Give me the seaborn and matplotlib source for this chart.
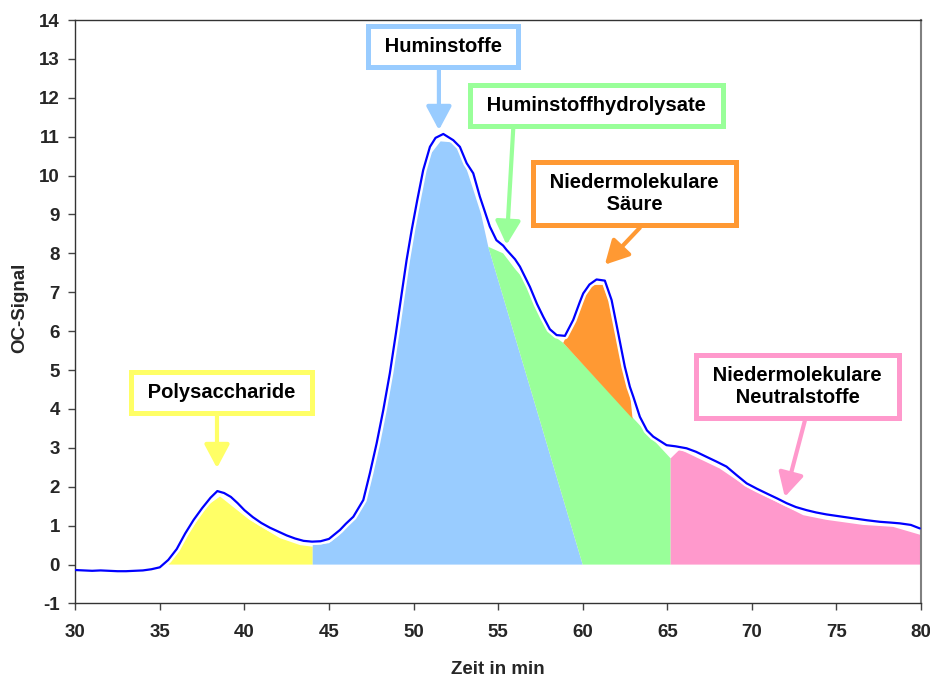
import numpy as np
import pandas as pd
import matplotlib
matplotlib.use("Agg")
import matplotlib.pyplot as plt
import seaborn as sns

# Measured OC detector signal over retention time
time_min = [30.0, 30.5, 31.0, 31.5, 32.0, 32.5, 33.0, 33.5, 34.0, 34.5, 35.0, 35.5,
            36.0, 36.5, 37.0, 37.5, 38.0, 38.4, 38.8, 39.2, 39.6, 40.0, 40.5, 41.0,
            41.5, 42.0, 42.5, 43.0, 43.5, 44.0, 44.5, 45.0, 45.65, 46.0, 46.44, 47.03,
            47.42, 47.82, 48.21, 48.6, 48.96, 49.3, 49.59, 49.89, 50.22, 50.57, 50.97,
            51.3, 51.76, 52.35, 52.74, 53.14, 53.53, 53.92, 54.12, 54.51, 54.9, 55.3,
            55.5, 56.0, 56.29, 56.88, 57.3, 57.67, 58.06, 58.46, 58.95, 59.44, 59.83,
            60.03, 60.4, 60.82, 61.31, 61.71, 62.1, 62.49, 62.79, 62.99, 63.38, 63.8,
            64.17, 64.96, 65.5, 66.14, 66.7, 67.32, 67.9, 68.5, 69.1, 69.69, 70.3,
            70.87, 71.5, 72.05, 72.6, 73.23, 73.8, 74.41, 75.2, 75.99, 76.8, 77.57,
            78.2, 78.75, 79.4, 79.93]
oc_signal = [-0.14, -0.15, -0.16, -0.15, -0.16, -0.17, -0.17, -0.16, -0.15, -0.12, -0.07, 0.12,
             0.40, 0.80, 1.15, 1.45, 1.72, 1.89, 1.84, 1.74, 1.58, 1.40, 1.22, 1.07,
             0.95, 0.85, 0.75, 0.67, 0.61, 0.59, 0.60, 0.66, 0.89, 1.05, 1.23, 1.66,
             2.35, 3.12, 3.97, 4.92, 5.95, 6.97, 7.83, 8.60, 9.37, 10.14, 10.74,
             10.97, 11.07, 10.91, 10.74, 10.32, 10.06, 9.46, 9.20, 8.69, 8.34, 8.20,
             8.09, 7.85, 7.66, 7.14, 6.70, 6.37, 6.05, 5.90, 5.88, 6.29, 6.75,
             6.97, 7.20, 7.33, 7.30, 6.80, 5.95, 5.09, 4.57, 4.32, 3.80, 3.45,
             3.29, 3.07, 3.04, 2.99, 2.90, 2.77, 2.65, 2.52, 2.30, 2.09, 1.95,
             1.83, 1.70, 1.58, 1.48, 1.40, 1.34, 1.29, 1.24, 1.19, 1.14, 1.10,
             1.08, 1.06, 1.02, 0.93]

# Fraction outlines (time, signal)
poly_t = [35.5, 37.75, 38.56, 40.3, 42.1, 43.3, 44.04, 44.04]
poly_s = [0.0, 1.50, 1.75, 1.15, 0.68, 0.50, 0.46, 0.0]

humin_t = [44.04, 44.04, 45.0, 45.6, 46.4, 47.0, 47.5, 48.0, 48.5, 49.0, 49.5, 50.0,
           50.5, 51.0, 51.6, 52.4, 53.0, 53.6, 54.0, 54.42, 60.0]
humin_s = [0.0, 0.50, 0.55, 0.75, 1.10, 1.50, 2.20, 3.20, 4.50, 5.85, 7.35, 8.60,
           9.80, 10.55, 10.88, 10.85, 10.35, 9.55, 9.00, 8.17, 0.0]

hydro_t = [54.42, 55.3, 56.0, 56.7, 57.4, 58.06, 58.85, 65.2, 65.2, 60.0]
hydro_s = [8.17, 8.00, 7.60, 7.25, 6.60, 5.95, 5.70, 2.73, 0.0, 0.0]

acid_t = [58.85, 59.3, 59.83, 60.2, 60.62, 61.21, 61.8, 62.4, 62.8, 62.95]
acid_s = [5.70, 6.10, 6.63, 7.00, 7.19, 7.19, 6.46, 5.26, 4.40, 3.75]

neutral_t = [65.2, 65.2, 65.74, 68.1, 69.69, 71.07, 73.04, 74.41, 76.57, 78.35, 80.0, 80.0]
neutral_s = [0.0, 2.73, 2.96, 2.47, 2.00, 1.70, 1.27, 1.15, 1.02, 0.97, 0.76, 0.0]

fraction_names = ["Polysaccharide", "Huminstoffe", "Huminstoffhydrolysate",
                  "Niedermolekulare\nSäure", "Niedermolekulare\nNeutralstoffe"]
fraction_colors = ["#FFFF66", "#99CCFF", "#99FF99", "#FF9933", "#FF99CC"]
# label box centres and arrow start/end in data units
label_pos = [(38.65, 4.42), (51.74, 13.31), (60.81, 11.81), (63.06, 9.54), (72.69, 4.58)]
arrow_from = [(38.38, 3.85), (51.5, 12.71), (55.9, 11.25), (63.38, 8.66), (73.13, 3.69)]
arrow_to = [(38.38, 2.48), (51.5, 11.17), (55.5, 8.22), (61.31, 7.71), (71.95, 1.74)]

x_ticks = [30, 35, 40, 45, 50, 55, 60, 65, 70, 75, 80]
y_ticks = list(range(-1, 15))

sns.set_theme(style="white")
plt.rcParams["font.family"] = ["Liberation Sans", "DejaVu Sans"]
plt.rcParams["axes.unicode_minus"] = False

fig = plt.figure(figsize=(9.3, 6.78), dpi=100)
ax = fig.add_axes([0.0809, 0.1099, 0.9094, 0.8606])

fills = [(poly_t, poly_s), (humin_t, humin_s), (hydro_t, hydro_s),
         (acid_t, acid_s), (neutral_t, neutral_s)]
for (ft, fs), col in zip(fills, fraction_colors):
    ax.fill(ft, fs, color=col, lw=0, zorder=1)

df = pd.DataFrame({"Zeit": time_min, "OC": oc_signal})
sns.lineplot(data=df, x="Zeit", y="OC", color="white", lw=5, ax=ax, zorder=2)
sns.lineplot(data=df, x="Zeit", y="OC", color="#0000FF", lw=1.6, ax=ax, zorder=3)


def boxed(label):
    # pad each line with a space so the frame is wider than it is tall
    return "\n".join(" " + line + " " for line in label.split("\n"))


for name, col, pos, a0, a1 in zip(fraction_names, fraction_colors, label_pos,
                                  arrow_from, arrow_to):
    ax.annotate("", xy=a1, xytext=a0,
                arrowprops=dict(arrowstyle="-|>,head_length=0.75,head_width=0.4",
                                color=col, lw=3, mutation_scale=19,
                                shrinkA=0, shrinkB=0), zorder=4)
    ax.text(pos[0], pos[1], boxed(name), ha="center", va="center", fontsize=14.5,
            fontweight="bold", linespacing=1.2, color="black", zorder=5,
            bbox=dict(boxstyle="square,pad=0.55", facecolor="white",
                      edgecolor=col, linewidth=3.6))

ax.set_xlim(30, 80)
ax.set_ylim(-1, 14)
ax.set_xticks(x_ticks)
ax.set_yticks(y_ticks)
ax.tick_params(axis="both", which="major", direction="out", length=5, width=1,
               color="#444444", labelsize=13.5, bottom=True, left=True)
ax.tick_params(axis="x", pad=10)
ax.tick_params(axis="y", pad=6)
for lab in ax.get_xticklabels() + ax.get_yticklabels():
    lab.set_fontweight("bold")

ax.set_xlabel("Zeit in min", fontsize=13.5, fontweight="bold")
ax.set_ylabel("OC-Signal", fontsize=13.5, fontweight="bold")
ax.xaxis.set_label_coords(0.5, -0.098)
ax.yaxis.set_label_coords(-0.056, 0.506)

for side in ["left", "bottom", "top"]:
    ax.spines[side].set_color("#333333")
    ax.spines[side].set_linewidth(1.0)
ax.spines["right"].set_color("#808080")
ax.spines["right"].set_linewidth(1.5)

fig.savefig("out.png", dpi=100)
